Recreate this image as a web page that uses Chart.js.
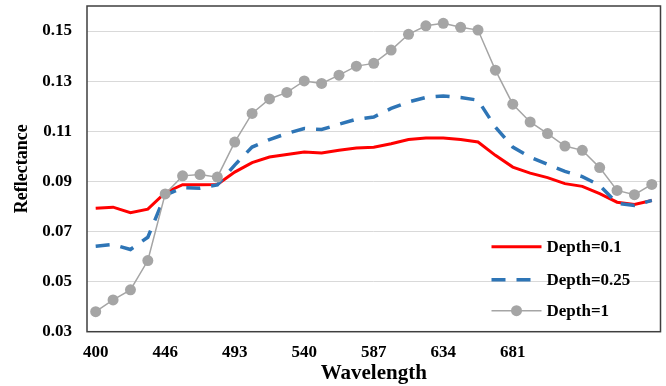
<!DOCTYPE html>
<html>
<head>
<meta charset="utf-8">
<script src="https://cdn.jsdelivr.net/npm/chart.js@4.4.1/dist/chart.umd.min.js"></script>
<style>
  html, body { margin: 0; padding: 0; background: #ffffff; }
  #wrap { width: 666px; height: 386px; }
</style>
</head>
<body>
<div id="wrap"><canvas id="c" width="666" height="386"></canvas></div>
<script>
// Wavelength of every sample (nm)
const wavelengths = [400, 412, 423, 435, 446, 458, 470, 481, 493, 505, 517, 528, 540, 552, 564, 575,
                     587, 599, 611, 622, 634, 646, 658, 669, 681, 693, 704, 716, 728, 740, 751, 763, 775];
// Wavelengths that get a label on the x axis
const xTickLabels = ['400', '446', '493', '540', '587', '634', '681'];
// Reflectance gridlines / labels
const yTicks = [0.03, 0.05, 0.07, 0.09, 0.11, 0.13, 0.15];

const seriesNames = ['Depth=0.1', 'Depth=0.25', 'Depth=1'];

const depth01 = [0.0793, 0.0797, 0.0775, 0.0789, 0.0855, 0.0887, 0.0887, 0.0888, 0.0937, 0.0975, 0.0997,
                 0.1007, 0.1017, 0.1013, 0.1024, 0.1033, 0.1036, 0.1050, 0.1067, 0.1073, 0.1073, 0.1067,
                 0.1057, 0.1004, 0.0957, 0.0933, 0.0915, 0.0891, 0.0880, 0.0851, 0.0817, 0.0808, 0.0824];

const depth025 = [0.0641, 0.0648, 0.0628, 0.0677, 0.0845, 0.0875, 0.0873, 0.0886, 0.0965, 0.1037, 0.1067,
                  0.1091, 0.1111, 0.1107, 0.1128, 0.1148, 0.1157, 0.1191, 0.1217, 0.1235, 0.1241, 0.1235,
                  0.1224, 0.1117, 0.1037, 0.0997, 0.0968, 0.0940, 0.0919, 0.0884, 0.0813, 0.0804, 0.0824];

const depth1 = [0.0380, 0.0427, 0.0467, 0.0584, 0.0850, 0.0922, 0.0927, 0.0917, 0.1057, 0.1171, 0.1229,
                0.1255, 0.1301, 0.1291, 0.1324, 0.1360, 0.1371, 0.1424, 0.1487, 0.1521, 0.1531, 0.1515,
                0.1504, 0.1344, 0.1208, 0.1137, 0.1091, 0.1041, 0.1024, 0.0955, 0.0864, 0.0847, 0.0888];

const FONT = '"Liberation Serif", "Times New Roman", serif';

// Dark frame around the plotting area
const plotFrame = {
  id: 'plotFrame',
  afterDatasetsDraw(chart) {
    const { ctx, chartArea: a } = chart;
    ctx.save();
    ctx.strokeStyle = '#3f3f3f';
    ctx.lineWidth = 1.5;
    ctx.strokeRect(a.left, a.top, a.right - a.left, a.bottom - a.top);
    ctx.restore();
  }
};

// Legend drawn inside the plot, lower right corner
const insetLegend = {
  id: 'insetLegend',
  afterDraw(chart) {
    const { ctx, chartArea: a } = chart;
    const rows = [a.bottom - 85, a.bottom - 52, a.bottom - 21];
    const x0 = a.right - 169, x1 = a.right - 119, tx = a.right - 114;
    ctx.save();
    chart.data.datasets.forEach((ds, i) => {
      const y = rows[i];
      ctx.beginPath();
      ctx.strokeStyle = ds.borderColor;
      ctx.lineWidth = ds.borderWidth;
      ctx.setLineDash(ds.borderDash || []);
      ctx.lineCap = 'butt';
      ctx.moveTo(x0, y);
      ctx.lineTo(x1, y);
      ctx.stroke();
      ctx.setLineDash([]);
      if (ds.pointRadius > 0) {
        ctx.beginPath();
        ctx.fillStyle = ds.pointBackgroundColor;
        ctx.arc((x0 + x1) / 2, y, ds.pointRadius, 0, Math.PI * 2);
        ctx.fill();
      }
      ctx.fillStyle = '#000000';
      ctx.font = 'bold 17px ' + FONT;
      ctx.textAlign = 'left';
      ctx.textBaseline = 'middle';
      ctx.fillText(ds.label, tx, y + 1);
    });
    ctx.restore();
  }
};

new Chart(document.getElementById('c'), {
  type: 'line',
  data: {
    labels: wavelengths,
    datasets: [
      {
        label: seriesNames[0], data: depth01, order: 3,
        borderColor: '#ff0000', borderWidth: 3, tension: 0,
        pointRadius: 0, pointHoverRadius: 0, fill: false
      },
      {
        label: seriesNames[1], data: depth025, order: 2,
        borderColor: '#2e75b6', borderWidth: 3.5, borderDash: [14, 11], tension: 0,
        pointRadius: 0, pointHoverRadius: 0, fill: false, borderCapStyle: 'butt'
      },
      {
        label: seriesNames[2], data: depth1, order: 1,
        borderColor: '#a5a5a5', borderWidth: 1.5, tension: 0,
        pointRadius: 5.5, pointBackgroundColor: '#a5a5a5', pointBorderColor: '#a5a5a5',
        pointBorderWidth: 0, pointHoverRadius: 5.5, fill: false
      }
    ]
  },
  options: {
    responsive: false,
    animation: false,
    devicePixelRatio: 1,
    layout: { padding: { left: 0, right: 4, top: 6, bottom: 0 } },
    plugins: { legend: { display: false }, tooltip: { enabled: false } },
    scales: {
      x: {
        type: 'category',
        offset: true,
        grid: { display: false, drawTicks: false },
        border: { display: false },
        ticks: {
          autoSkip: false, maxRotation: 0, minRotation: 0, padding: 11, color: '#000000',
          font: { family: FONT, size: 17, weight: 'bold' },
          callback(value, index) {
            const w = String(wavelengths[index]);
            return xTickLabels.includes(w) ? w : '';
          }
        },
        title: {
          display: true, text: 'Wavelength', color: '#000000',
          font: { family: FONT, size: 21, weight: 'bold' },
          padding: { top: 0, bottom: 0 }
        },
        afterFit(scale) {
          scale.height = 54.3;
          scale.paddingLeft = 0;
          scale.paddingRight = 0;
        }
      },
      y: {
        min: 0.03, max: 0.16,
        afterBuildTicks(scale) { scale.ticks = yTicks.map(v => ({ value: v })); },
        grid: { color: '#d9d9d9', lineWidth: 1, drawTicks: false },
        border: { display: false },
        ticks: {
          padding: 15, color: '#000000',
          font: { family: FONT, size: 17, weight: 'bold' },
          callback(value) { return Number(value).toFixed(2); }
        },
        title: {
          display: true, text: 'Reflectance', color: '#000000',
          font: { family: FONT, size: 18, weight: 'bold' },
          padding: { top: 12, bottom: 0 }
        },
        afterFit(scale) {
          scale.width = 87;
          scale.paddingTop = 0;
          scale.paddingBottom = 0;
        }
      }
    }
  },
  plugins: [plotFrame, insetLegend]
});
</script>
</body>
</html>
